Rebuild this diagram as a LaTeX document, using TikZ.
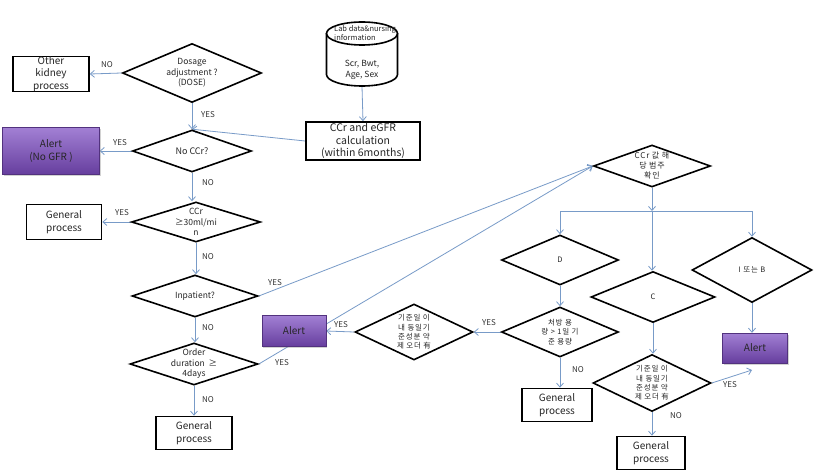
\documentclass[tikz,border=0pt]{standalone}
\usepackage{fontspec}
\setmainfont{Noto Sans CJK KR}
\newfontfamily\krfont[LetterSpace=10]{Noto Sans CJK KR}
\usetikzlibrary{shapes.geometric,arrows.meta,shadows}
\pgfdeclarelayer{background}
\pgfsetlayers{background,main}
\definecolor{arr}{RGB}{120,155,200}
\definecolor{ptop}{RGB}{162,128,212}
\definecolor{pbot}{RGB}{102,62,158}
\tikzset{
  dia/.style 2 args={diamond, draw=black, line width=1.6pt, inner sep=0pt, minimum width=#1, minimum height=#2},
  dtxt/.style={font=\fontsize{8.5}{10.5}\selectfont, align=center, text=black!85},
  ktxt/.style={font=\krfont\fontsize{7.5}{9.3}\selectfont, align=center, text=black!85},
  box/.style 2 args={draw=black, line width=1.7pt, minimum width=#1, minimum height=#2, inner sep=0pt, align=center, font=\fontsize{10}{12.5}\selectfont, text=black!85},
  alertbox/.style 2 args={draw=pbot!80!black, line width=0.4pt, top color=ptop, bottom color=pbot, minimum width=#1, minimum height=#2, inner sep=0pt, align=center, font=\fontsize{10}{12.5}\selectfont, text=black!85, drop shadow={shadow xshift=1pt, shadow yshift=-1.5pt, opacity=0.35}},
  ar/.style={draw=arr, line width=0.8pt, -{Straight Barb[length=4pt,width=7pt]}},
  ln/.style={draw=arr, line width=0.8pt},
  el/.style={font=\fontsize{8}{9.5}\selectfont, text=black!80}
}
\begin{document}
\begin{tikzpicture}[x=1pt,y=1pt]
\begin{pgfonlayer}{background}
\fill[white] (0,0) rectangle (814,-476);
\end{pgfonlayer}
\useasboundingbox (0,0) rectangle (814,-476);

% left column
\node[dia={139pt}{59pt}, label={[dtxt]center:{Dosage\\adjustment ?\\(DOSE)}}] (dose) at (192,-73) {};
\node[box={76pt}{34pt}] (other) at (51,-74) {Other\\kidney\\process};
\node[alertbox={97pt}{47pt}] (nogfr) at (51,-151) {Alert\\(No GFR )};
\node[dia={119pt}{42pt}, label={[dtxt,font=\fontsize{9}{10.5}\selectfont]center:{No CCr?}}] (noccr) at (192,-151) {};
\node[box={114pt}{38pt}, font=\fontsize{10.5}{12.5}\selectfont] (calc) at (363,-141) {CCr and eGFR\\calculation\\(within 6months)};

% cylinder
\node[minimum width=71pt, minimum height=64pt, inner sep=0pt] (cyl) at (362,-54) {};
\draw[line width=1.6pt, fill=white] (326.5,-33.5) -- (326.5,-74.5) arc[start angle=180, end angle=360, x radius=35.5, y radius=11.5] -- (397.5,-33.5);
\draw[line width=1.6pt] (362,-33.5) ellipse [x radius=35.5, y radius=11.5];
\node[font=\fontsize{7.5}{9}\selectfont, align=left, anchor=north west, inner sep=0pt, text=black!85] at (334,-25) {Lab data\&nursing\\information};
\node[font=\fontsize{8.5}{11}\selectfont, align=center, text=black!85] at (362,-70) {Scr, Bwt,\\Age, Sex};

\node[dia={129pt}{40pt}, label={[dtxt,font=\fontsize{8.5}{10.5}\selectfont]center:{CCr\\≥30ml/mi\\n}}] (c30) at (196,-222) {};
\node[box={75pt}{35pt}] (gp1) at (64,-222) {General\\process};
\node[dia={126pt}{42pt}, label={[dtxt]center:{Inpatient?}}] (inp) at (195,-296) {};
\node[dia={128pt}{42pt}, label={[dtxt]center:{Order\\duration~~≥\\4days}}] (ord) at (194,-364) {};
\node[alertbox={64pt}{31pt}] (al2) at (294,-331) {Alert};
\node[box={76pt}{33pt}] (gp2) at (194,-433) {General\\process};

% middle / right
\node[dia={118pt}{56pt}, label={[ktxt]center:{기준일 이\\내 동일기\\준성분 약\\제 오더 有}}] (kr1) at (414,-332) {};
\node[dia={117pt}{50pt}, label={[ktxt]center:{처방 용\\량 > 1일 기\\준 용량}}] (rx) at (560,-332) {};
\node[dia={117pt}{50pt}, label={[ktxt]center:{D}}] (dd) at (560,-260) {};
\node[box={70pt}{33pt}] (gp3) at (557,-405) {General\\process};
\node[dia={124pt}{51pt}, label={[ktxt]center:{C}}] (cc) at (653,-297) {};
\node[dia={118pt}{57pt}, label={[ktxt]center:{기준일 이\\내 동일기\\준성분 약\\제 오더 有}}] (kr2) at (652,-383) {};
\node[box={68pt}{33pt}] (gp4) at (651,-453) {General\\process};
\node[dia={120pt}{65pt}, label={[ktxt]center:{I 또는 B}}] (ib) at (752,-270) {};
\node[alertbox={65pt}{30pt}] (al3) at (755,-348) {Alert};
\node[dia={117pt}{42pt}, label={[ktxt,font=\krfont\fontsize{8}{10}\selectfont]center:{CCr 값 해\\당 범주\\확인}}] (cat) at (652,-166) {};

\coordinate (bus) at (652,-211);
\coordinate (busL) at (dd.north |- bus);
\coordinate (busR) at (ib.north |- bus);
\coordinate (yesend) at (752,-370);

\begin{pgfonlayer}{background}
\draw[ar] (dose.west) -- (other.east);
\draw[ar] (dose.south) -- (noccr.north);
\draw[ar] (cyl.south) -- (calc.north);
\draw[ar] (calc.west) -- (noccr.north);
\draw[ar] (noccr.west) -- (nogfr.east);
\draw[ar] (noccr.south) -- (noccr.south |- c30.north);
\draw[ar] (c30.west) -- (gp1.east);
\draw[ar] (c30.south) -- (c30.south |- inp.north);
\draw[ar] (inp.east) -- (cat.west);
\draw[ar] (inp.south) -- (inp.south |- ord.north);
\draw[ar] (ord.east) -- (cat.west);
\draw[ar] (ord.south) -- (ord.south |- gp2.north);
\draw[ar] (kr1.west) -- (al2.east);
\draw[ar] (rx.west) -- (kr1.east);
\draw[ar] (dd.south) -- (rx.north);
\draw[ar] (rx.south) -- (rx.south |- gp3.north);
\draw[ar] (cc.south) -- (cc.south |- kr2.north);
\draw[ar] (kr2.south) -- (kr2.south |- gp4.north);
\draw[ar] (kr2.east) -- (yesend);
\draw[ar] (ib.south) -- (ib.south |- al3.north);
\draw[ar] (cat.south) -- (bus);
\draw[ln] (busL) -- (busR);
\draw[ar] (busL) -- (dd.north);
\draw[ar] (bus) -- (bus |- cc.north);
\draw[ar] (busR) -- (ib.north);
\end{pgfonlayer}

% edge labels
\node[el] at (107,-65) {NO};
\node[el] at (208,-115) {YES};
\node[el] at (120,-143) {YES};
\node[el] at (208,-183) {NO};
\node[el] at (122,-213) {YES};
\node[el] at (208,-257) {NO};
\node[el] at (275,-283) {YES};
\node[el] at (208,-328) {NO};
\node[el] at (282,-363) {YES};
\node[el] at (208,-400) {NO};
\node[el] at (341,-325) {YES};
\node[el] at (489,-323) {YES};
\node[el] at (578,-370) {NO};
\node[el] at (730,-385) {YES};
\node[el] at (676,-416) {NO};
\end{tikzpicture}
\end{document}
